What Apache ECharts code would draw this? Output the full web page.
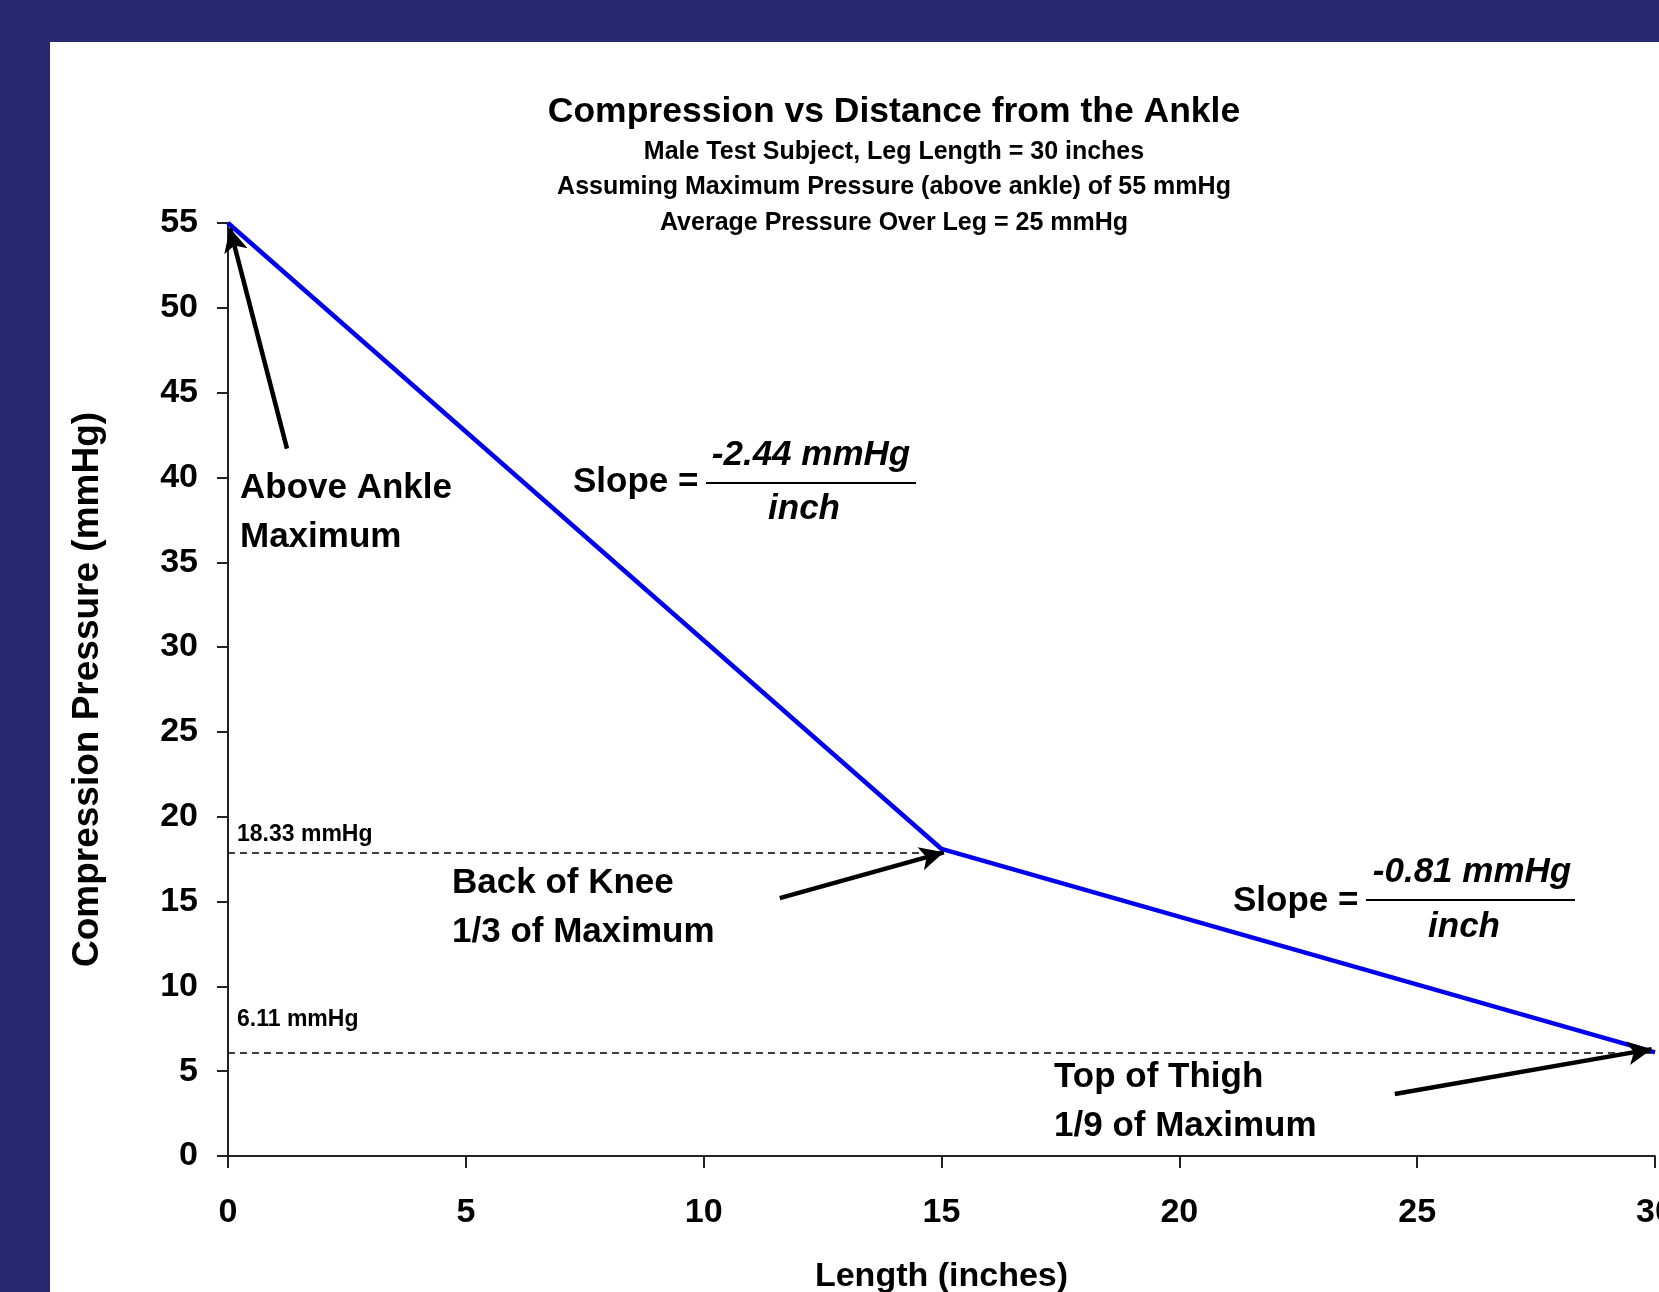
<!DOCTYPE html>
<html><head><meta charset="utf-8">
<script src="https://cdn.jsdelivr.net/npm/echarts@6/dist/echarts.min.js"></script>
<style>
html,body{margin:0;padding:0;background:#29286f;width:1659px;height:1292px;overflow:hidden}
#panel{position:absolute;left:50px;top:42px;width:1609px;height:1250px;background:#fff}
#chart{position:absolute;left:0;top:0;width:1659px;height:1292px}
</style></head><body>
<div id="panel"></div><div id="chart"></div>
<script>
// ---- data ----
const lengthInches = [0, 15, 30];
const pressure = [55, 18.1, 6.11];
const kneeLevel = 17.9, kneeEnd = 15;
const thighLevel = 6.11, thighEnd = 30;
const yMin = 0, yMax = 55, yStep = 5;
const xMin = 0, xMax = 30, xStep = 5;
const titleText = 'Compression vs Distance from the Ankle';
const subtitleLines = ['Male Test Subject, Leg Length = 30 inches',
  'Assuming Maximum Pressure (above ankle) of 55 mmHg',
  'Average Pressure Over Leg = 25 mmHg'];
const kneeLabel = '18.33 mmHg', thighLabel = '6.11 mmHg';
// annotation arrows: [tail, tip] in data coordinates
const arrowAnkle = [[1.24, 41.7], [0.04, 54.7]];
const arrowKnee = [[11.6, 15.2], [15.05, 17.9]];
const arrowThigh = [[24.53, 3.66], [29.93, 6.3]];

const FF = '"Liberation Sans", Arial, sans-serif';
const NF = '"Liberation Sans Narrow", "Liberation Sans", Arial, sans-serif';

const chart = echarts.init(document.getElementById('chart'), null, {renderer: 'canvas'});

function arrow(a) {
  return [
    {coord: a[0], symbol: 'none', lineStyle: {color: '#000', width: 4.5, type: 'solid'}},
    {coord: a[1], symbol: 'arrow', symbolSize: [18, 24]}
  ];
}
function dashed(level, end) {
  return [
    {coord: [xMin, level], symbol: 'none', lineStyle: {color: '#000', width: 1.5, type: [7, 5]}},
    {coord: [end, level], symbol: 'none'}
  ];
}
function txt(x, y, text, font, align) {
  return {type: 'text', x: x, y: y, silent: true,
    style: {text: text, font: font, fill: '#000', align: align || 'left', textAlign: align || 'left',
      verticalAlign: 'middle', textVerticalAlign: 'middle'}};
}
const B35 = 'bold 35px ' + FF;
const BI35 = 'italic bold 35px ' + FF;
const S23 = 'bold 23px ' + FF;

chart.setOption({
  animation: false,
  title: [
    {text: titleText, left: 889, top: 88, textAlign: 'center',
      textStyle: {fontSize: 35.5, fontWeight: 'bold', fontFamily: FF, color: '#000', lineHeight: 38}},
    {text: subtitleLines.join('\n'), left: 889, top: 129, textAlign: 'center',
      textStyle: {fontSize: 25, fontWeight: 'bold', fontFamily: NF, color: '#000', lineHeight: 35.5}}
  ],
  grid: {left: 228, top: 223, right: 4, bottom: 136, containLabel: false, outerBoundsMode: 'none'},
  xAxis: {
    type: 'value', min: xMin, max: xMax, interval: xStep,
    name: 'Length (inches)', nameLocation: 'middle', nameGap: 104,
    nameTextStyle: {fontSize: 34, fontWeight: 'bold', fontFamily: FF, color: '#000'},
    axisLine: {lineStyle: {color: '#222', width: 2}},
    axisTick: {show: true, inside: false, length: 12, lineStyle: {color: '#222', width: 2}},
    axisLabel: {margin: 40, fontSize: 34, fontWeight: 'bold', fontFamily: NF, color: '#000'},
    splitLine: {show: false}
  },
  yAxis: {
    type: 'value', min: yMin, max: yMax, interval: yStep,
    name: 'Compression Pressure (mmHg)', nameLocation: 'middle', nameGap: 122,
    nameTextStyle: {fontSize: 37, fontWeight: 'bold', fontFamily: FF, color: '#000'},
    axisLine: {show: true, lineStyle: {color: '#222', width: 2}},
    axisTick: {show: true, inside: false, length: 11, lineStyle: {color: '#222', width: 2}},
    axisLabel: {margin: 30, fontSize: 34, fontWeight: 'bold', fontFamily: NF, color: '#000'},
    splitLine: {show: false}
  },
  series: [{
    type: 'line',
    data: lengthInches.map((x, i) => [x, pressure[i]]),
    symbol: 'none',
    lineStyle: {color: '#0000ee', width: 4.5},
    z: 3,
    markLine: {
      silent: true, animation: false,
      label: {show: false},
      emphasis: {disabled: true},
      data: [dashed(kneeLevel, kneeEnd), dashed(thighLevel, thighEnd),
        arrow(arrowAnkle), arrow(arrowKnee), arrow(arrowThigh)]
    }
  }],
  graphic: [
    txt(237, 835, kneeLabel, S23),
    txt(237, 1020, thighLabel, S23),
    txt(240, 488, 'Above Ankle', B35),
    txt(240, 537, 'Maximum', B35),
    txt(452, 883, 'Back of Knee', B35),
    txt(452, 932, '1/3 of Maximum', B35),
    txt(1054, 1077, 'Top of Thigh', B35),
    txt(1054, 1126, '1/9 of Maximum', B35),
    txt(573, 482, 'Slope =', B35),
    txt(811, 455, '-2.44 mmHg', BI35, 'center'),
    {type: 'line', silent: true, shape: {x1: 706, y1: 483, x2: 916, y2: 483}, style: {stroke: '#000', lineWidth: 2}},
    txt(804, 509, 'inch', BI35, 'center'),
    txt(1233, 901, 'Slope =', B35),
    txt(1472, 872, '-0.81 mmHg', BI35, 'center'),
    {type: 'line', silent: true, shape: {x1: 1366, y1: 900, x2: 1575, y2: 900}, style: {stroke: '#000', lineWidth: 2}},
    txt(1464, 927, 'inch', BI35, 'center')
  ]
});
</script>
</body></html>
